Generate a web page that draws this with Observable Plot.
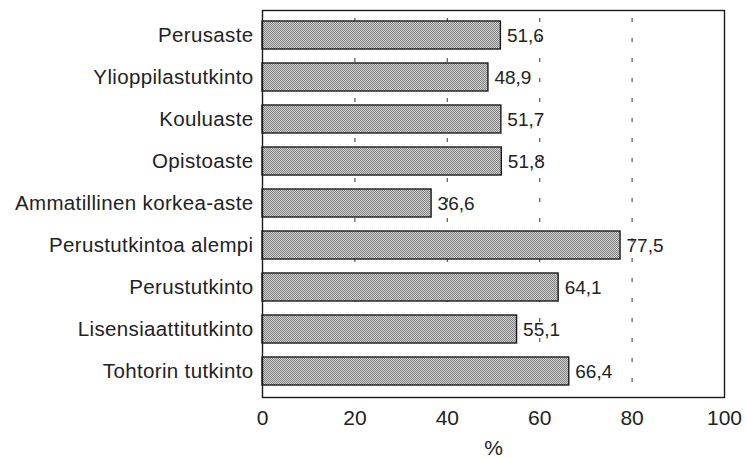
<!DOCTYPE html>
<html><head><meta charset="utf-8">
<script src="https://cdn.jsdelivr.net/npm/d3@7"></script>
<script src="https://cdn.jsdelivr.net/npm/@observablehq/plot@0.6"></script>
<style>body{margin:0;background:#fff;} svg{display:block;}</style>
</head><body><div id="chart"></div>
<script>
const categories = ["Perusaste","Ylioppilastutkinto","Kouluaste","Opistoaste","Ammatillinen korkea-aste","Perustutkintoa alempi","Perustutkinto","Lisensiaattitutkinto","Tohtorin tutkinto"];
const values = [51.6,48.9,51.7,51.8,36.6,77.5,64.1,55.1,66.4];
const xTicks = [0,20,40,60,80,100];
const gridTicks = [20,40,60,80];
const axisLabel = ["%"];
const data = categories.map((c,i)=>({cat:c, v:values[i]}));
const fmt = d => d.toFixed(1).replace(".", ",");

const plot = Plot.plot({
  width: 747, height: 458,
  marginLeft: 262, marginRight: 23, marginTop: 10, marginBottom: 61,
  style: {fontFamily: "Liberation Sans, Arial, sans-serif", background: "#fff", color: "#222"},
  x: {domain: [0,100]},
  y: {domain: categories, paddingInner: 0.33, paddingOuter: 0.17},
  marks: [
    Plot.ruleX(gridTicks, {stroke: "#555", strokeWidth: 1.2, strokeDasharray: "4,16", strokeDashoffset: 12}),
    Plot.barX(data, {x: "v", y: "cat", fill: "url(#stip)", stroke: "#1a1a1a", strokeWidth: 1.4}),
    Plot.text(data, {x: "v", y: "cat", text: d=>fmt(d.v), textAnchor: "start", dx: 6, fontSize: 19, fill: "#222", style: "letter-spacing:0.3px"}),
    Plot.axisY({tickSize: 0, tickPadding: 9, label: null, fontSize: 20.5, fill: "#222"}),
    Plot.axisX(xTicks, {tickSize: 0, tickPadding: 13, label: null, fontSize: 21, fill: "#222"}),
    Plot.text(axisLabel, {frameAnchor: "bottom", dy: 57, text: d=>d, fontSize: 21, fill: "#222"}),
    Plot.frame({stroke: "#1a1a1a", strokeWidth: 1.4})
  ]
});
d3.select(plot).selectAll("[aria-label='y-axis tick label'] text").style("letter-spacing", "0.35px");
const defs = d3.select(plot).insert("defs", ":first-child");
const pat = defs.append("pattern").attr("id","stip").attr("width",2).attr("height",2).attr("patternUnits","userSpaceOnUse");
pat.append("rect").attr("width",2).attr("height",2).attr("fill","#d2d2d2");
pat.append("rect").attr("x",0).attr("y",0).attr("width",1).attr("height",1).attr("fill","#808080");
pat.append("rect").attr("x",1).attr("y",1).attr("width",1).attr("height",1).attr("fill","#808080");
document.getElementById("chart").appendChild(plot);
</script></body></html>
